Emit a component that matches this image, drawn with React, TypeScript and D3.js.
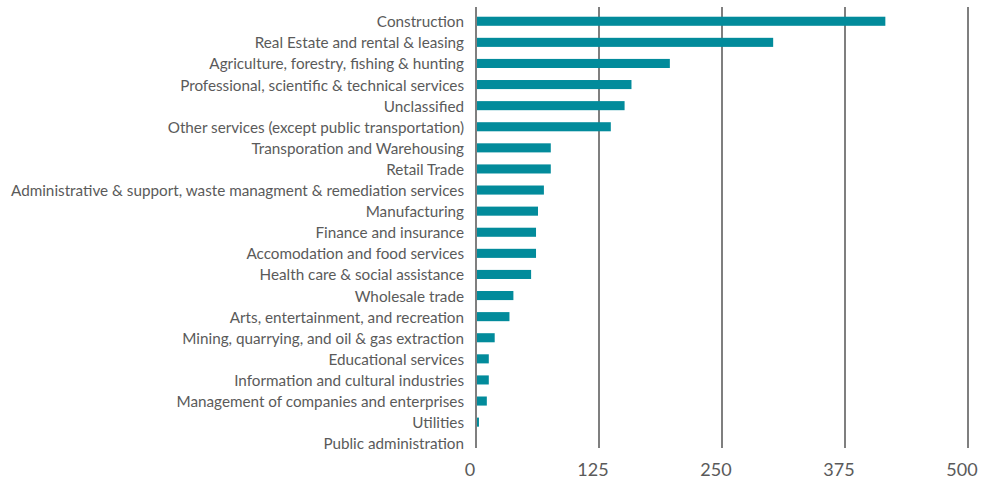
import React from 'react';
import * as d3 from 'd3';

const industries = [
  'Construction',
  'Real Estate and rental & leasing',
  'Agriculture, forestry, fishing & hunting',
  'Professional, scientific & technical services',
  'Unclassified',
  'Other services (except public transportation)',
  'Transporation and Warehousing',
  'Retail Trade',
  'Administrative & support, waste managment & remediation services',
  'Manufacturing',
  'Finance and insurance',
  'Accomodation and food services',
  'Health care & social assistance',
  'Wholesale trade',
  'Arts, entertainment, and recreation',
  'Mining, quarrying, and oil & gas extraction',
  'Educational services',
  'Information and cultural industries',
  'Management of companies and enterprises',
  'Utilities',
  'Public administration',
];

const counts = [416, 302, 197, 158, 151, 137, 76, 76, 69, 63, 61, 61, 56, 38, 34, 19, 13, 13, 11, 3, 0];

const xTicks = [0, 125, 250, 375, 500];

export default function App() {
  const width = 982;
  const height = 481;
  const gridTop = 7;
  const gridBottom = 448;

  const x = d3.scaleLinear().domain([0, 500]).range([476, 968]);
  const y = d3.scaleBand<string>()
    .domain(industries)
    .range([12.5, 452])
    .paddingInner(0.57)
    .paddingOuter(0.2);

  const font = 'Lato, "Open Sans", sans-serif';

  return (
    <svg width={width} height={height} style={{ position: 'absolute', left: 0, top: 0 }}>
      <g>
        {xTicks.map(t => (
          <line key={'g' + t} x1={x(t)} x2={x(t)} y1={gridTop} y2={gridBottom}
            stroke="#5f5f5f" strokeWidth={1.6} />
        ))}
      </g>
      <g>
        {industries.map((d, i) => (
          <rect key={d} x={x(0) + 1} y={y(d)} width={Math.max(0, x(counts[i]) - x(0) - 1)}
            height={y.bandwidth()} fill="#028b9b" />
        ))}
      </g>
      <g fontFamily={font} fontSize={15.25} fill="#5a5a5a">
        {industries.map(d => (
          <text key={'l' + d} x={x(0) - 12} y={(y(d) ?? 0) + y.bandwidth() / 2}
            textAnchor="end" dominantBaseline="central">{d}</text>
        ))}
      </g>
      <g fontFamily={font} fontSize={18} fill="#5a5a5a">
        {xTicks.map(t => (
          <text key={'t' + t} x={x(t) - 6} y={469} textAnchor="middle" dominantBaseline="central">{t}</text>
        ))}
      </g>
    </svg>
  );
}
